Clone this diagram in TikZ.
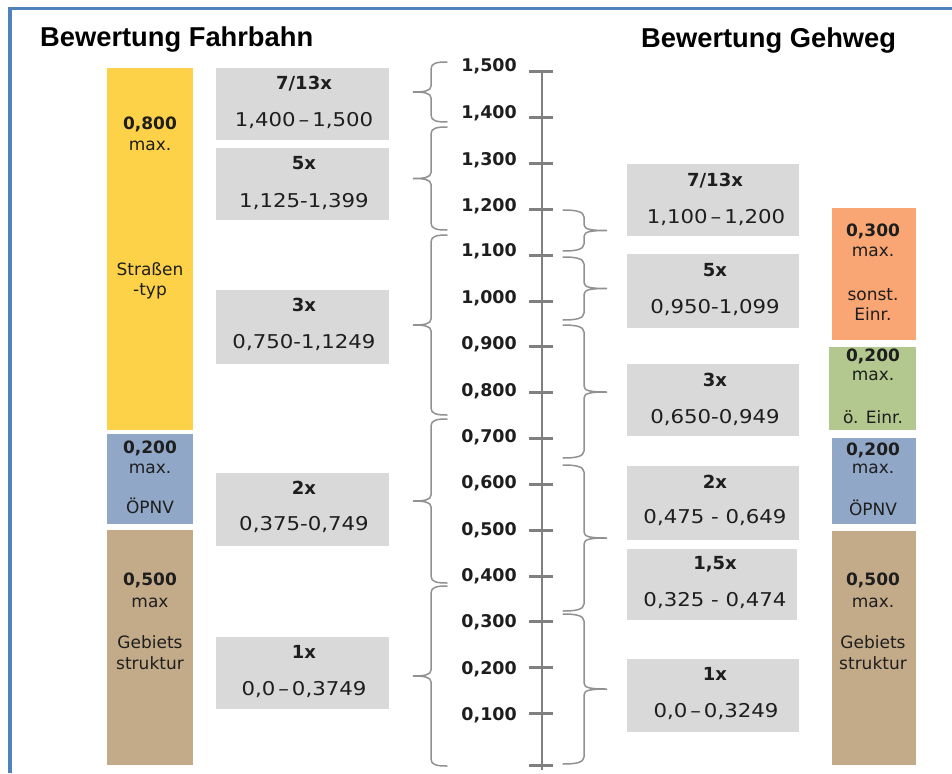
\documentclass[tikz,border=0pt]{standalone}
\usepackage{fontspec}
\setmainfont{DejaVu Sans}
\newfontfamily\titlefont{Liberation Sans}
\newfontfamily\boxfont[FakeStretch=1.12]{DejaVu Sans}
\definecolor{framebl}{RGB}{79,129,189}
\definecolor{boxgray}{RGB}{217,217,217}
\definecolor{barylw}{RGB}{254,210,72}
\definecolor{barblu}{RGB}{144,167,199}
\definecolor{barbrn}{RGB}{195,171,137}
\definecolor{barorg}{RGB}{249,165,116}
\definecolor{bargrn}{RGB}{178,200,142}
\definecolor{axgray}{RGB}{128,128,128}
\definecolor{brgray}{RGB}{145,145,145}
\definecolor{txtdark}{RGB}{30,30,30}
\newcommand{\LeftCurl}[4]{%
  \coordinate (#1) at (413,#4);
  \draw[curlybr] (447,#2) .. controls (437,#2) and (431,#2+1) .. (431,#2+7)
    -- (431,#4-6) .. controls (431,#4-1) and (424,#4) .. (#1)
    .. controls (424,#4) and (431,#4+1) .. (431,#4+6)
    -- (431,#3-7) .. controls (431,#3-1) and (437,#3) .. (447,#3);}
\newcommand{\RightCurl}[4]{%
  \coordinate (#1) at (607,#4);
  \draw[curlybr] (563,#2) .. controls (574,#2) and (584,#2+1) .. (584,#2+7)
    -- (584,#4-6) .. controls (584,#4-1) and (591,#4) .. (#1)
    .. controls (591,#4) and (584,#4+1) .. (584,#4+6)
    -- (584,#3-7) .. controls (584,#3-1) and (574,#3) .. (563,#3);}
\begin{document}
\begin{tikzpicture}[x=1pt,y=-1pt,
  frame/.style={draw=framebl,line width=3.5pt},
  ttl/.style={font=\titlefont\bfseries\fontsize{27.3}{31}\selectfont,inner sep=0,anchor=west,text height=19.5pt,text depth=0pt},
  gbox/.style={fill=boxgray,draw=none,inner sep=0},
  bar/.style={draw=none,inner sep=0},
  boxhead/.style={font=\bfseries\fontsize{18}{21}\selectfont,text=txtdark,inner sep=0,text height=13.1pt,text depth=0pt},
  boxrange/.style={font=\boxfont\fontsize{19}{22}\selectfont,text=txtdark,inner sep=0,text height=13.9pt,text depth=0pt},
  barval/.style={font=\bfseries\fontsize{17}{20}\selectfont,text=txtdark,inner sep=0,text height=12.4pt,text depth=0pt},
  bartxt/.style={font=\fontsize{17}{20}\selectfont,text=txtdark,inner sep=0,text height=11pt,text depth=0pt},
  axlab/.style={font=\bfseries\fontsize{17.5}{20}\selectfont,text=txtdark,anchor=east,inner sep=0,text height=12.8pt,text depth=0pt},
  axisln/.style={draw=axgray,line width=2pt},
  tickln/.style={draw=axgray,line width=3pt},
  curlybr/.style={draw=brgray,line width=1.5pt,line cap=round}]
\useasboundingbox (0,0) rectangle (952,773);
% frame
\coordinate (fa) at (10,773);
\coordinate (fb) at (10,8.3);
\coordinate (fc) at (952,8.3);
\draw[frame] (fa) -- (fb) -- (fc);
% titles
\node[ttl] (t1) at (40,37) {Bewertung Fahrbahn};
\node[ttl] (t2) at (641,38) {Bewertung Gehweg};
% left bars
\node[bar,fill=barylw,minimum width=86pt,minimum height=362pt] (ly) at (150,249) {};
\node[bar,fill=barblu,minimum width=86pt,minimum height=90pt] (lb) at (150,479) {};
\node[bar,fill=barbrn,minimum width=86pt,minimum height=235pt] (lbr) at (150,647.5) {};
\node[barval] (ly1) at (150,123) {0,800};
\node[bartxt] (ly2) at (150,145) {max.};
\node[bartxt] (ly3) at (150,270) {Straßen};
\node[bartxt] (ly4) at (150,290) {-typ};
\node[barval] (lb1) at (150,447) {0,200};
\node[bartxt] (lb2) at (150,468) {max.};
\node[bartxt] (lb3) at (150,508) {ÖPNV};
\node[barval] (lbr1) at (150,579) {0,500};
\node[bartxt] (lbr2) at (150,602) {max};
\node[bartxt] (lbr3) at (150,643) {Gebiets};
\node[bartxt] (lbr4) at (150,664) {struktur};
% right bars
\node[bar,fill=barorg,minimum width=84pt,minimum height=132pt] (ro) at (874,274) {};
\node[bar,fill=bargrn,minimum width=87pt,minimum height=83pt] (rg) at (872.5,388.5) {};
\node[bar,fill=barblu,minimum width=84pt,minimum height=86pt] (rb) at (874,481) {};
\node[bar,fill=barbrn,minimum width=84pt,minimum height=234pt] (rbr) at (874,648) {};
\node[barval] (ro1) at (873,230) {0,300};
\node[bartxt] (ro2) at (873,251) {max.};
\node[bartxt] (ro3) at (873,295) {sonst.};
\node[bartxt] (ro4) at (873,315) {Einr.};
\node[barval] (rg1) at (873,355) {0,200};
\node[bartxt] (rg2) at (873,375) {max.};
\node[bartxt] (rg3) at (873,418) {ö. Einr.};
\node[barval] (rb1) at (873,449) {0,200};
\node[bartxt] (rb2) at (873,468) {max.};
\node[bartxt] (rb3) at (873,510) {ÖPNV};
\node[barval] (rbr1) at (873,579) {0,500};
\node[bartxt] (rbr2) at (873,602) {max.};
\node[bartxt] (rbr3) at (873,643) {Gebiets};
\node[bartxt] (rbr4) at (873,664) {struktur};
% left gray boxes
\node[gbox,minimum width=173pt,minimum height=72pt] (L1) at (302.5,104) {};
\node[gbox,minimum width=173pt,minimum height=72pt] (L2) at (302.5,184) {};
\node[gbox,minimum width=173pt,minimum height=74pt] (L3) at (302.5,327) {};
\node[gbox,minimum width=173pt,minimum height=73pt] (L4) at (302.5,509.5) {};
\node[gbox,minimum width=173pt,minimum height=72pt] (L5) at (302.5,673) {};
\node[boxhead] (L1a) at (304,83) {7/13x};
\node[boxrange] (L1b) at (304,120) {1,400\kern3pt–\kern3pt1,500};
\node[boxhead] (L2a) at (304,163) {5x};
\node[boxrange] (L2b) at (304,201) {1,125-1,399};
\node[boxhead] (L3a) at (304,305) {3x};
\node[boxrange] (L3b) at (304,342) {0,750-1,1249};
\node[boxhead] (L4a) at (304,488) {2x};
\node[boxrange] (L4b) at (304,524) {0,375-0,749};
\node[boxhead] (L5a) at (304,652) {1x};
\node[boxrange] (L5b) at (304,689) {0,0\kern3pt–\kern3pt0,3749};
% right gray boxes
\node[gbox,minimum width=172pt,minimum height=72pt] (R1) at (713,200) {};
\node[gbox,minimum width=172pt,minimum height=74pt] (R2) at (713,291) {};
\node[gbox,minimum width=172pt,minimum height=72pt] (R3) at (713,400) {};
\node[gbox,minimum width=172pt,minimum height=74pt] (R4) at (713,503) {};
\node[gbox,minimum width=170pt,minimum height=71pt] (R5) at (712,584.5) {};
\node[gbox,minimum width=172pt,minimum height=73pt] (R6) at (713,695.5) {};
\node[boxhead] (R1a) at (715,180) {7/13x};
\node[boxrange] (R1b) at (716,216.7) {1,100\kern3pt–\kern3pt1,200};
\node[boxhead] (R2a) at (715,270) {5x};
\node[boxrange] (R2b) at (715,306.7) {0,950-1,099};
\node[boxhead] (R3a) at (715,380) {3x};
\node[boxrange] (R3b) at (715,416.7) {0,650-0,949};
\node[boxhead] (R4a) at (715,481.7) {2x};
\node[boxrange] (R4b) at (715,516.7) {0,475 - 0,649};
\node[boxhead] (R5a) at (715,563.3) {1,5x};
\node[boxrange] (R5b) at (715,600) {0,325 - 0,474};
\node[boxhead] (R6a) at (715,674) {1x};
\node[boxrange] (R6b) at (716,710.7) {0,0\kern3pt–\kern3pt0,3249};
% axis
\coordinate (axtop) at (542,71.7);
\coordinate (axbot) at (542,770);
\draw[axisln] (axtop) -- (axbot);
\foreach \a/\b/\ly/\ty [count=\i] in {1/500/65/71.7, 1/400/112/117.6, 1/300/159/163.4, 1/200/205/209.3, 1/100/250/255.1, 1/000/296.7/301, 0/900/342.7/346.8, 0/800/390/392.7, 0/700/436/438.5, 0/600/482.3/484.4, 0/500/529.3/530.2, 0/400/575/576, 0/300/620.7/621.9, 0/200/668.3/667.8, 0/100/714/713.6}{
  \coordinate (tk\i) at (542,\ty);
  \draw[tickln] ([xshift=-13pt]tk\i) -- ([xshift=11pt]tk\i);
  \node[axlab] (lab\i) at (517,\ly) {\a,\b};
}
\coordinate (tk0) at (542,765);
\draw[tickln] ([xshift=-13pt]tk0) -- ([xshift=11pt]tk0);
% left braces
\LeftCurl{lc1}{62}{122}{92}
\LeftCurl{lc2}{127}{230}{178.5}
\LeftCurl{lc3}{235}{415}{325}
\LeftCurl{lc4}{419}{583}{501}
\LeftCurl{lc5}{586}{766}{676}
% right braces
\RightCurl{rc1}{210}{251}{230.5}
\RightCurl{rc2}{257}{320}{288.5}
\RightCurl{rc3}{325}{458}{392}
\RightCurl{rc4}{465}{611}{538}
\RightCurl{rc5}{614}{764}{689}
\end{tikzpicture}
\end{document}
